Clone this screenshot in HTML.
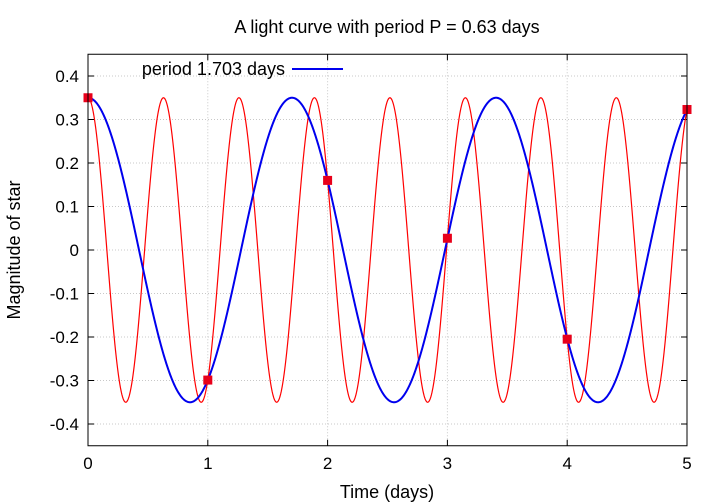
<!DOCTYPE html>
<html><head><meta charset="utf-8"><style>
body{margin:0;background:#fff}
svg{display:block;font-family:"Liberation Sans",sans-serif}
</style></head><body>
<svg id="c" width="720" height="504"></svg>
<script>
const xTicks=[0,1,2,3,4,5];
const yTicks=[-0.4,-0.3,-0.2,-0.1,0,0.1,0.2,0.3,0.4];
const yTickLabels=["-0.4","-0.3","-0.2","-0.1","0","0.1","0.2","0.3","0.4"];
const amplitude=[0.35];
const periods=[0.63,1.703];
const sampleTimes=[0,1,2,3,4,5];
const sampleMags=[0.35,-0.299,0.16,0.027,-0.205,0.323];
const L=88,R=687,T=54.25,B=445.75,X0=0,X1=5,Y0=-0.45,Y1=0.45;
const sx=v=>L+(v-X0)/(X1-X0)*(R-L);
const sy=v=>B-(v-Y0)/(Y1-Y0)*(B-T);
const svg=document.getElementById('c');
const NS='http://www.w3.org/2000/svg';
function mk(t,a,p){const e=document.createElementNS(NS,t);for(const k in a)e.setAttribute(k,a[k]);(p||svg).appendChild(e);return e;}
const g=mk('g',{});


xTicks.forEach(v=>{if(v>X0&&v<X1)mk('line',{x1:sx(v),x2:sx(v),y1:T,y2:B,stroke:'#c8c8c8','stroke-dasharray':'1,2'},g);});
yTicks.forEach(v=>mk('line',{x1:L,x2:R,y1:sy(v),y2:sy(v),stroke:'#c8c8c8','stroke-dasharray':'1,2'},g));
const ax=mk('g',{});


xTicks.forEach(v=>{
 mk('line',{x1:sx(v),x2:sx(v),y1:B,y2:B-6,stroke:'#000'},ax);
 mk('line',{x1:sx(v),x2:sx(v),y1:T,y2:T+6,stroke:'#000'},ax);
 const t=mk('text',{x:sx(v),y:B+23,'text-anchor':'middle','font-size':17},ax);t.textContent=v;
 
 
});
yTicks.forEach((v,i)=>{
 mk('line',{x1:L,x2:L+6,y1:sy(v),y2:sy(v),stroke:'#000'},ax);
 mk('line',{x1:R,x2:R-6,y1:sy(v),y2:sy(v),stroke:'#000'},ax);
 const t=mk('text',{x:L-9,y:sy(v)+6,'text-anchor':'end','font-size':17},ax);t.textContent=yTickLabels[i];
 
 
});
const colors=['#ff0000','#0000ee'],widths=[1.2,2];
periods.forEach((P,k)=>{
 let d='';
 for(let i=0;i<=1200;i++){const t=X0+(X1-X0)*i/1200;const y=amplitude[0]*Math.cos(2*Math.PI*t/P);d+=(i?'L':'M')+sx(t).toFixed(2)+','+sy(y).toFixed(2);}
 const p=mk('path',{d:d,fill:'none',stroke:colors[k],'stroke-width':widths[k]});
 
 
});
sampleTimes.forEach((t,i)=>{
 const r=mk('rect',{x:sx(t)-4.5,y:sy(sampleMags[i])-4.5,width:9,height:9,fill:'#e8001a'});
 
 
});
const f=mk('rect',{x:L,y:T,width:R-L,height:B-T,fill:'none',stroke:'#000'});


const lt=mk('text',{x:285,y:75,'text-anchor':'end','font-size':18});lt.textContent='period 1.703 days';


const ll=mk('line',{x1:292,x2:343,y1:69,y2:69,stroke:'#0000ee','stroke-width':2});


const tt=mk('text',{x:387,y:33,'text-anchor':'middle','font-size':18});tt.textContent='A light curve with period P = 0.63 days';


const xt=mk('text',{x:387,y:498,'text-anchor':'middle','font-size':18});xt.textContent='Time (days)';


const yt=mk('text',{x:20,y:250,'text-anchor':'middle','font-size':18,transform:'rotate(-90 20 250)'});yt.textContent='Magnitude of star';


</script>
</body></html>
